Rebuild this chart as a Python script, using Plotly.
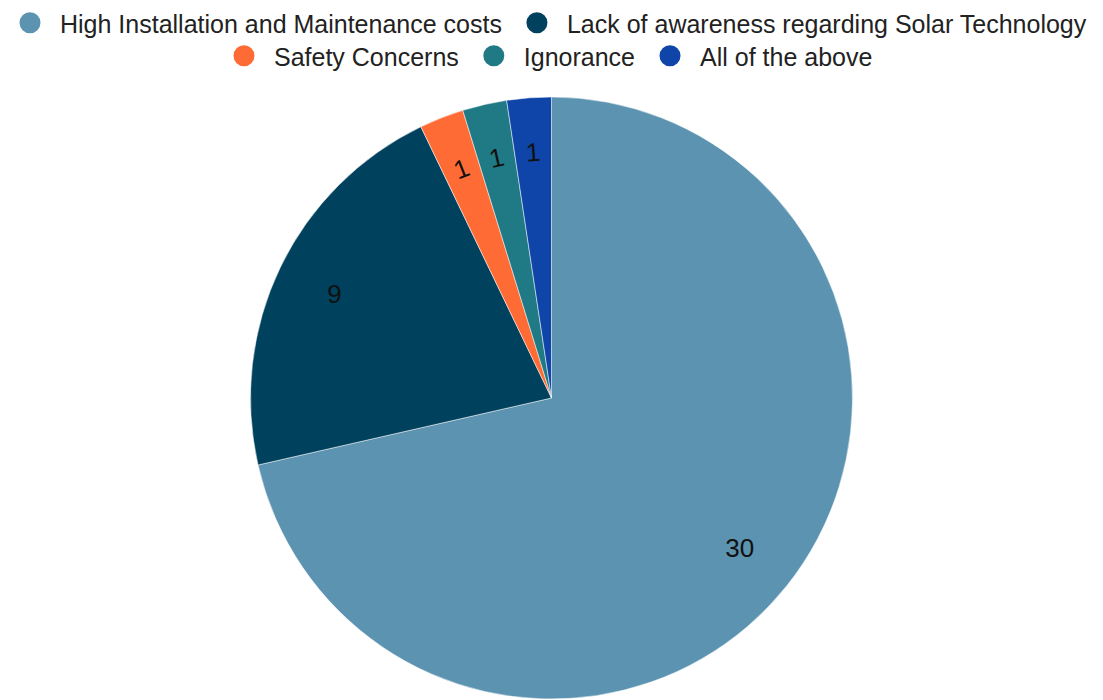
import plotly.graph_objects as go

categories = ["High Installation and Maintenance costs",
              "Lack of awareness regarding Solar Technology",
              "Safety Concerns", "Ignorance", "All of the above"]
values = [30, 9, 1, 1, 1]
colors = ["#5B93B0", "#00425E", "#FF6B35", "#1F7A85", "#0F44A8"]
legend_rows = ["legend", "legend", "legend2", "legend2", "legend2"]

FONT = "Liberation Sans, Arial, sans-serif"
W, H = 1103, 700
CX, CY, R = 551.5, 302, 301          # pie centre (px from left / bottom) and radius
pie_domain = dict(x=[(CX - R) / W, (CX + R) / W], y=[(CY - R) / H, (CY + R) / H])
R2 = 280                              # label ring for thin slices sits a bit inside
ring_domain = dict(x=[(CX - R2) / W, (CX + R2) / W], y=[(CY - R2) / H, (CY + R2) / H])
total = sum(values)
big = [v / total > 0.1 for v in values]
clear = ["rgba(0,0,0,0)"] * len(values)

fig = go.Figure()
# full pie (colours only)
fig.add_trace(go.Pie(
    labels=categories, values=values, sort=False, direction="clockwise",
    rotation=0, domain=pie_domain,
    marker=dict(colors=colors, line=dict(color="white", width=0.5)),
    textinfo="none", showlegend=False, hoverinfo="label+value"))
# transparent ring: labels of the large slices (horizontal)
fig.add_trace(go.Pie(
    labels=categories, values=values, sort=False, direction="clockwise",
    rotation=0, domain=pie_domain, hole=0.6,
    marker=dict(colors=clear, line=dict(width=0)),
    textinfo="value", textposition=["inside" if b else "none" for b in big],
    insidetextorientation="horizontal",
    textfont=dict(size=26, color="#111", family=FONT),
    showlegend=False, hoverinfo="skip"))
# transparent ring: labels of the thin slices (tangential)
fig.add_trace(go.Pie(
    labels=categories, values=values, sort=False, direction="clockwise",
    rotation=0, domain=ring_domain, hole=0.6,
    marker=dict(colors=clear, line=dict(width=0)),
    textinfo="value", textposition=["none" if b else "inside" for b in big],
    insidetextorientation="tangential",
    textfont=dict(size=26, color="#111", family=FONT),
    showlegend=False, hoverinfo="skip"))

for cat, col, lg in zip(categories, colors, legend_rows):
    fig.add_trace(go.Scatter(x=[None], y=[None], mode="markers", name=cat,
                             marker=dict(color=col, size=22, symbol="circle",
                                         line=dict(color=col, width=5)),
                             legend=lg, showlegend=True))

legend_common = dict(orientation="h", xanchor="center", yanchor="top",
                     font=dict(size=25, color="#222", family=FONT),
                     bgcolor="rgba(0,0,0,0)", itemsizing="trace", itemwidth=50)
fig.update_layout(
    width=W, height=H,
    margin=dict(l=0, r=0, t=0, b=0),
    paper_bgcolor="white", plot_bgcolor="white",
    xaxis=dict(visible=False), yaxis=dict(visible=False),
    legend=dict(**legend_common, x=0.495, y=1.0),
    legend2=dict(**legend_common, x=0.495, y=1 - 33 / 700),
)
fig.write_html("out.html", config={"displayModeBar": False},
               post_script="document.body.style.margin='0';")
